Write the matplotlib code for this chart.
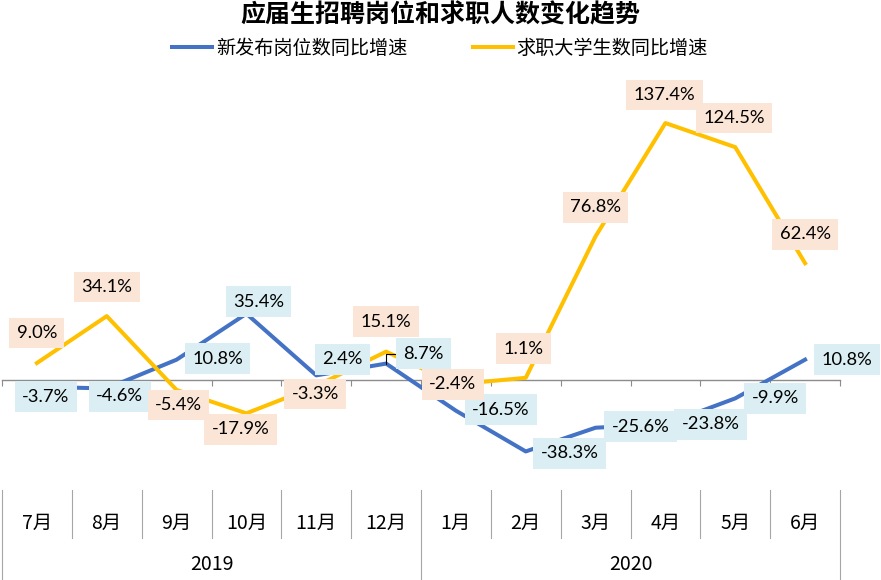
import matplotlib
matplotlib.use("Agg")
import matplotlib.pyplot as plt
import matplotlib.transforms as mtransforms
from matplotlib.lines import Line2D
import numpy as np

plt.rcParams['font.family'] = ['Noto Sans CJK SC', 'DejaVu Sans']

months = ['7月', '8月', '9月', '10月', '11月', '12月',
          '1月', '2月', '3月', '4月', '5月', '6月']
years = ['2019', '2020']
jobs = [-3.7, -4.6, 10.8, 35.4, 2.4, 8.7, -16.5, -38.3, -25.6, -23.8, -9.9, 10.8]
seekers = [9.0, 34.1, -5.4, -17.9, -3.3, 15.1, -2.4, 1.1, 76.8, 137.4, 124.5, 62.4]
jobs_name = '新发布岗位数同比增速'
seekers_name = '求职大学生数同比增速'
title = '应届生招聘岗位和求职人数变化趋势'

# label offsets in pixels (x right, y up)
jobs_off = [(9, -10), (13, -8), (41, 1), (12, 12), (26, 16), (37, 10),
            (45, 1), (44, -2), (45, 1), (45, 0), (40, 0), (42, 0)]
seekers_off = [(0, 30), (0, 29), (2, -15), (-6, -16), (-1, -8), (0, 30),
               (-3, 0), (-2, 29), (0, 29), (-1, 28), (-1, 29), (0, 29)]

blue = '#4472C4'
yellow = '#FFC000'
grey = '#8C8C8C'

W, H = 881, 580
fig = plt.figure(figsize=(W / 100, H / 100), dpi=100)
ax = fig.add_axes([2 / W, 1 - 492 / H, 838 / W, (492 - 99.5) / H])

x = np.arange(len(months)) + 0.5
ax.plot(x, jobs, color=blue, lw=2.9, label=jobs_name, zorder=3)
ax.plot(x, seekers, color=yellow, lw=2.9, label=seekers_name, zorder=4)

ax.set_xlim(0, len(months))
ax.set_ylim(-60, 150)
for s in ['top', 'right', 'left']:
    ax.spines[s].set_visible(False)
ax.spines['bottom'].set_position(('data', 0))
ax.spines['bottom'].set_color(grey)
ax.spines['bottom'].set_linewidth(1)
ax.set_xticks(np.arange(len(months) + 1))
ax.tick_params(axis='x', direction='out', length=4.5, color=grey, labelbottom=False)
ax.set_yticks([])

lab_font = dict(family=['Lato', 'DejaVu Sans'], fontsize=13.2, color='black',
                ha='center', va='center')

for i, v in enumerate(jobs):
    arrow = None
    if i == 5:
        arrow = dict(arrowstyle='-', color='black', lw=0.8, shrinkA=0, shrinkB=0,
                     relpos=(0, 0.5), connectionstyle='angle,angleA=0,angleB=90,rad=0')
    ax.annotate(f'{v:.1f}%', (x[i], v), xytext=jobs_off[i], textcoords='offset pixels',
                bbox=dict(boxstyle='square,pad=0.4', fc='#DAEEF3', ec='none'),
                arrowprops=arrow, zorder=5, **lab_font)

for i, v in enumerate(seekers):
    ax.annotate(f'{v:.1f}%', (x[i], v), xytext=seekers_off[i], textcoords='offset pixels',
                bbox=dict(boxstyle='square,pad=0.4', fc='#FBE5D6', ec='none'),
                zorder=6, **lab_font)

# two-level category axis
trans = mtransforms.blended_transform_factory(ax.transData, fig.transFigure)
sep_top = 1 - 490 / H
sep_bot = 1 - 538 / H
for b in range(len(months) + 1):
    bottom = 0 if b % 6 == 0 else sep_bot
    fig.add_artist(Line2D([b, b], [sep_top, bottom], transform=trans,
                          color='#A6A6A6', lw=0.8))
for i, m in enumerate(months):
    fig.text(x[i], 1 - 523 / H, m, transform=trans, ha='center', va='center',
             fontsize=14, color='black')
for j, yname in enumerate(years):
    fig.text(6 * j + 3, 1 - 565 / H, yname, transform=trans, ha='center', va='center',
             fontsize=14, color='black')

fig.text(440 / W, 1 - 15 / H, title, ha='center', va='center',
         fontsize=18, fontweight='bold')
fig.legend(loc='center', bbox_to_anchor=(440 / W, 1 - 48 / H), ncol=2, frameon=False,
           fontsize=13.8, handlelength=2.1, handletextpad=0.2, columnspacing=3.4,
           borderpad=0)

fig.savefig('out.png', dpi=100)
